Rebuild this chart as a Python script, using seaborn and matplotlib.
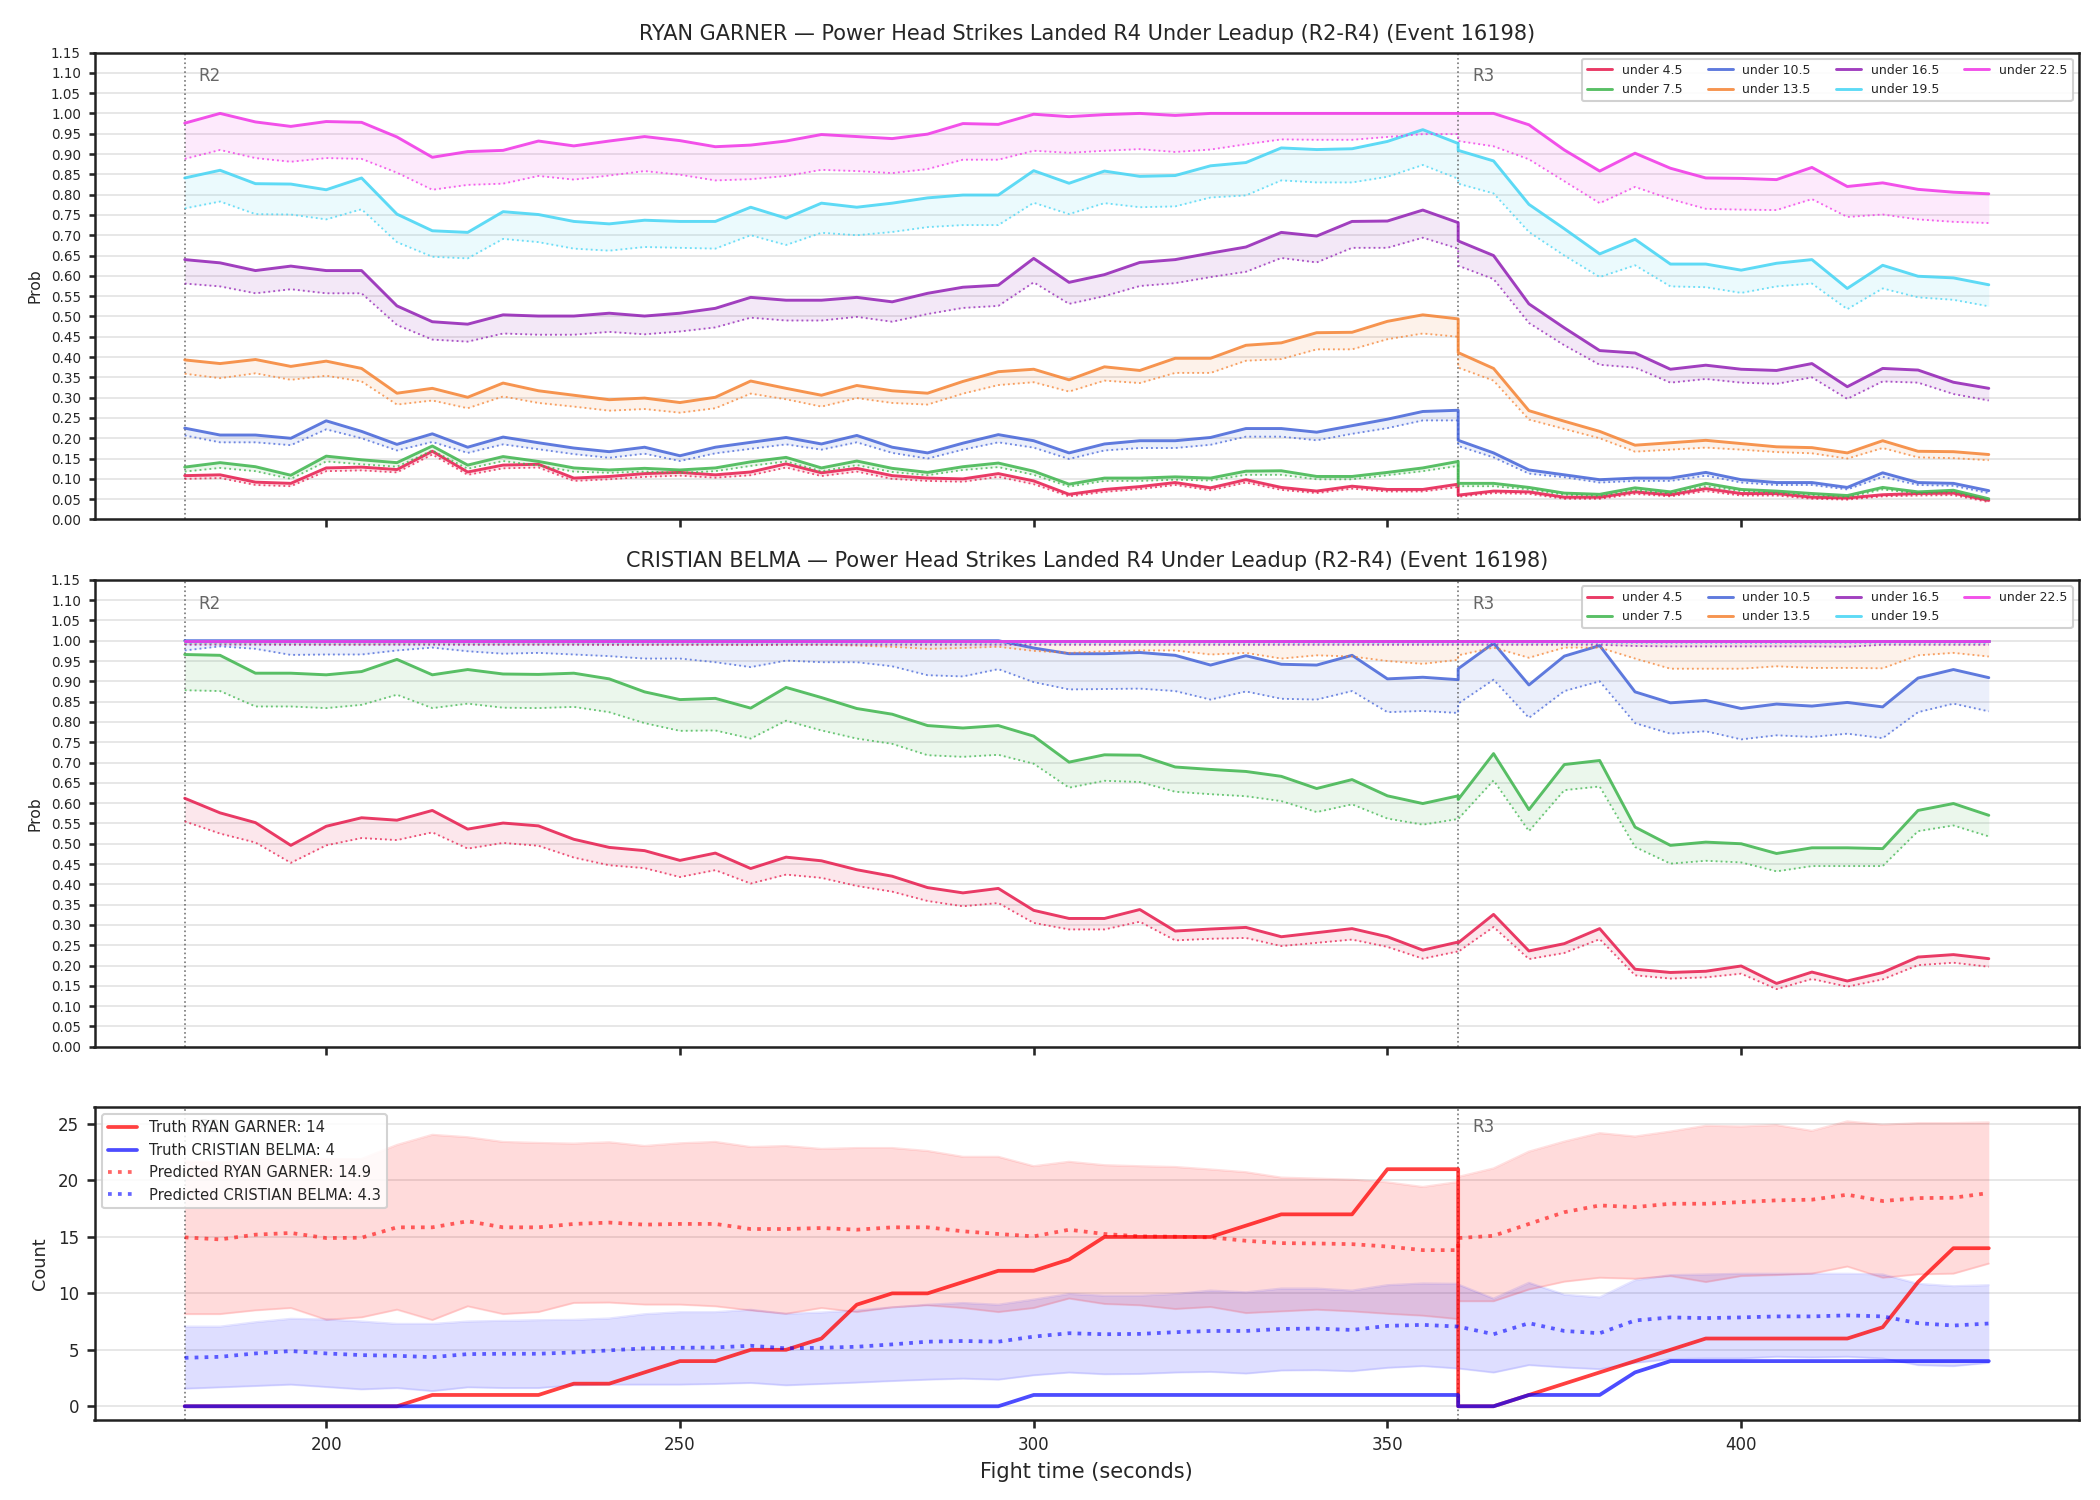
import matplotlib
matplotlib.use("Agg")
import seaborn as sns
import matplotlib.pyplot as plt
import matplotlib.transforms as mtransforms

# time grid: R2 leg (180-360) then R3 leg restarting at 360
time_r2 = [180, 185, 190, 195, 200, 205, 210, 215, 220, 225, 230, 235, 240, 245, 250,
           255, 260, 265, 270, 275, 280, 285, 290, 295, 300, 305, 310, 315, 320, 325,
           330, 335, 340, 345, 350, 355, 360]
time_r3 = [360, 365, 370, 375, 380, 385, 390, 395, 400, 405, 410, 415, 420, 425, 430, 435]
time = time_r2 + time_r3

lines = ["under 4.5", "under 7.5", "under 10.5", "under 13.5", "under 16.5", "under 19.5", "under 22.5"]
line_colors = ["#e6194b", "#3cb44b", "#4363d8", "#f58231", "#911eb4", "#42d4f4", "#f032e6"]

# ---- RYAN GARNER (solid / dotted) ----
rg_u45 = [0.108, 0.11, 0.092, 0.089, 0.127, 0.129, 0.123, 0.168, 0.117, 0.134,
          0.136, 0.102, 0.106, 0.113, 0.116, 0.11, 0.117, 0.137, 0.115, 0.126,
          0.108, 0.102, 0.1, 0.113, 0.095, 0.062, 0.074, 0.081, 0.091, 0.078,
          0.098, 0.079, 0.07, 0.082, 0.074, 0.074, 0.087,
          0.06, 0.07, 0.068, 0.055, 0.055, 0.068, 0.061, 0.076, 0.064, 0.064, 0.055, 0.053, 0.061, 0.064, 0.065, 0.047]
rg_u45_lo = [0.1, 0.102, 0.085, 0.082, 0.119, 0.121, 0.116, 0.16, 0.11, 0.126,
             0.128, 0.095, 0.099, 0.105, 0.108, 0.103, 0.109, 0.128, 0.107, 0.118,
             0.1, 0.095, 0.093, 0.105, 0.087, 0.057, 0.068, 0.075, 0.085, 0.072,
             0.091, 0.073, 0.065, 0.076, 0.069, 0.069, 0.08,
             0.056, 0.065, 0.063, 0.051, 0.051, 0.063, 0.057, 0.07, 0.059, 0.059, 0.051, 0.049, 0.057, 0.059, 0.06, 0.043]
rg_u75 = [0.129, 0.14, 0.13, 0.109, 0.156, 0.147, 0.14, 0.181, 0.134, 0.155,
          0.143, 0.127, 0.122, 0.126, 0.122, 0.127, 0.142, 0.153, 0.127, 0.144,
          0.126, 0.116, 0.13, 0.139, 0.119, 0.087, 0.102, 0.102, 0.105, 0.102,
          0.119, 0.12, 0.106, 0.106, 0.116, 0.127, 0.143,
          0.089, 0.089, 0.079, 0.065, 0.062, 0.078, 0.068, 0.089, 0.074, 0.07, 0.064, 0.059, 0.079, 0.068, 0.072, 0.051]
rg_u75_lo = [0.118, 0.127, 0.119, 0.1, 0.143, 0.136, 0.13, 0.17, 0.125, 0.144,
             0.133, 0.118, 0.115, 0.118, 0.115, 0.119, 0.132, 0.143, 0.119, 0.134,
             0.117, 0.109, 0.122, 0.129, 0.11, 0.081, 0.095, 0.095, 0.098, 0.096,
             0.11, 0.11, 0.099, 0.099, 0.109, 0.119, 0.132,
             0.082, 0.082, 0.074, 0.061, 0.058, 0.072, 0.064, 0.082, 0.07, 0.065, 0.06, 0.055, 0.074, 0.064, 0.068, 0.047]
rg_u105 = [0.225, 0.208, 0.208, 0.2, 0.243, 0.217, 0.185, 0.211, 0.178, 0.203,
           0.189, 0.176, 0.167, 0.178, 0.157, 0.178, 0.19, 0.202, 0.186, 0.207,
           0.178, 0.164, 0.188, 0.209, 0.194, 0.164, 0.186, 0.194, 0.194, 0.202,
           0.224, 0.224, 0.215, 0.231, 0.247, 0.266, 0.269,
           0.195, 0.164, 0.122, 0.11, 0.098, 0.102, 0.102, 0.116, 0.098, 0.091, 0.091, 0.079, 0.115, 0.091, 0.089, 0.071]
rg_u105_lo = [0.207, 0.19, 0.19, 0.183, 0.222, 0.2, 0.17, 0.191, 0.164, 0.185,
              0.173, 0.161, 0.152, 0.162, 0.144, 0.163, 0.174, 0.185, 0.172, 0.19,
              0.164, 0.15, 0.172, 0.19, 0.177, 0.149, 0.17, 0.176, 0.176, 0.184,
              0.204, 0.204, 0.195, 0.211, 0.225, 0.244, 0.244,
              0.181, 0.153, 0.113, 0.104, 0.091, 0.095, 0.095, 0.108, 0.091, 0.085, 0.085, 0.074, 0.105, 0.085, 0.083, 0.065]
rg_u135 = [0.393, 0.384, 0.394, 0.377, 0.39, 0.372, 0.311, 0.323, 0.301, 0.336,
           0.317, 0.306, 0.295, 0.299, 0.288, 0.301, 0.341, 0.323, 0.306, 0.33,
           0.317, 0.311, 0.34, 0.364, 0.37, 0.344, 0.376, 0.367, 0.397, 0.397,
           0.429, 0.435, 0.46, 0.461, 0.488, 0.504, 0.494,
           0.411, 0.372, 0.268, 0.242, 0.217, 0.183, 0.189, 0.195, 0.187, 0.179, 0.177, 0.164, 0.194, 0.168, 0.167, 0.16]
rg_u135_lo = [0.359, 0.348, 0.36, 0.344, 0.354, 0.34, 0.283, 0.293, 0.274, 0.303,
              0.287, 0.278, 0.268, 0.272, 0.263, 0.274, 0.31, 0.296, 0.278, 0.299,
              0.287, 0.283, 0.31, 0.331, 0.338, 0.315, 0.342, 0.336, 0.361, 0.361,
              0.391, 0.395, 0.419, 0.419, 0.444, 0.458, 0.45,
              0.374, 0.342, 0.246, 0.223, 0.2, 0.167, 0.172, 0.177, 0.172, 0.166, 0.163, 0.15, 0.176, 0.153, 0.151, 0.146]
rg_u165 = [0.64, 0.632, 0.613, 0.624, 0.613, 0.613, 0.526, 0.487, 0.481, 0.504,
           0.501, 0.501, 0.508, 0.501, 0.508, 0.52, 0.547, 0.54, 0.54, 0.547,
           0.536, 0.557, 0.572, 0.577, 0.643, 0.584, 0.603, 0.633, 0.64, 0.656,
           0.671, 0.707, 0.698, 0.734, 0.735, 0.762, 0.731,
           0.686, 0.65, 0.531, 0.472, 0.416, 0.41, 0.37, 0.38, 0.37, 0.367, 0.384, 0.327, 0.372, 0.368, 0.338, 0.323]
rg_u165_lo = [0.581, 0.574, 0.557, 0.567, 0.557, 0.557, 0.479, 0.443, 0.438, 0.458,
              0.455, 0.455, 0.462, 0.456, 0.463, 0.473, 0.497, 0.49, 0.49, 0.499,
              0.487, 0.506, 0.521, 0.526, 0.584, 0.531, 0.55, 0.575, 0.582, 0.597,
              0.61, 0.644, 0.633, 0.669, 0.669, 0.694, 0.667,
              0.625, 0.592, 0.484, 0.429, 0.381, 0.374, 0.337, 0.346, 0.337, 0.334, 0.35, 0.297, 0.34, 0.337, 0.309, 0.293]
rg_u195 = [0.841, 0.86, 0.827, 0.826, 0.812, 0.841, 0.752, 0.711, 0.707, 0.758,
           0.751, 0.734, 0.728, 0.737, 0.734, 0.734, 0.769, 0.742, 0.779, 0.769,
           0.779, 0.792, 0.799, 0.799, 0.859, 0.828, 0.858, 0.845, 0.847, 0.871,
           0.879, 0.915, 0.911, 0.913, 0.931, 0.96, 0.926,
           0.909, 0.883, 0.776, 0.716, 0.654, 0.69, 0.629, 0.629, 0.614, 0.631, 0.64, 0.569, 0.626, 0.599, 0.595, 0.578]
rg_u195_lo = [0.766, 0.783, 0.752, 0.751, 0.739, 0.764, 0.683, 0.647, 0.643, 0.691,
              0.683, 0.667, 0.662, 0.671, 0.669, 0.667, 0.7, 0.676, 0.706, 0.7,
              0.708, 0.72, 0.725, 0.725, 0.78, 0.752, 0.779, 0.769, 0.771, 0.793,
              0.798, 0.835, 0.83, 0.83, 0.844, 0.873, 0.839,
              0.827, 0.803, 0.708, 0.65, 0.597, 0.626, 0.574, 0.572, 0.558, 0.574, 0.581, 0.518, 0.569, 0.547, 0.541, 0.525]
rg_u225 = [0.976, 1.0, 0.979, 0.968, 0.98, 0.978, 0.942, 0.892, 0.906, 0.909,
           0.932, 0.92, 0.932, 0.943, 0.933, 0.918, 0.922, 0.932, 0.948, 0.943,
           0.938, 0.949, 0.975, 0.973, 0.998, 0.992, 0.997, 1.0, 0.995, 1.0,
           1.0, 1.0, 1.0, 1.0, 1.0, 1.0, 1.0,
           1.0, 1.0, 0.972, 0.91, 0.858, 0.902, 0.865, 0.841, 0.84, 0.837, 0.867, 0.82, 0.829, 0.813, 0.806, 0.802]
rg_u225_lo = [0.888, 0.91, 0.89, 0.881, 0.89, 0.888, 0.854, 0.812, 0.824, 0.827,
              0.846, 0.837, 0.847, 0.858, 0.849, 0.835, 0.838, 0.846, 0.861, 0.858,
              0.853, 0.863, 0.886, 0.886, 0.908, 0.903, 0.908, 0.912, 0.905, 0.911,
              0.924, 0.936, 0.935, 0.935, 0.942, 0.949, 0.949,
              0.932, 0.919, 0.887, 0.833, 0.779, 0.819, 0.789, 0.765, 0.763, 0.762, 0.789, 0.745, 0.751, 0.739, 0.733, 0.73]

# ---- CRISTIAN BELMA (solid / dotted) ----
cb_u45 = [0.612, 0.576, 0.552, 0.496, 0.543, 0.564, 0.558, 0.582, 0.536, 0.551,
          0.544, 0.511, 0.491, 0.483, 0.459, 0.477, 0.439, 0.467, 0.458, 0.436,
          0.42, 0.392, 0.379, 0.39, 0.336, 0.316, 0.316, 0.338, 0.285, 0.29,
          0.294, 0.271, 0.281, 0.291, 0.271, 0.238, 0.258,
          0.256, 0.326, 0.236, 0.254, 0.291, 0.191, 0.183, 0.186, 0.199, 0.156, 0.184, 0.162, 0.183, 0.221, 0.227, 0.217]
cb_u45_lo = [0.555, 0.525, 0.503, 0.453, 0.496, 0.514, 0.509, 0.528, 0.488, 0.502,
             0.495, 0.466, 0.447, 0.44, 0.418, 0.435, 0.402, 0.424, 0.416, 0.396,
             0.382, 0.359, 0.346, 0.354, 0.305, 0.289, 0.289, 0.308, 0.262, 0.266,
             0.268, 0.248, 0.256, 0.264, 0.246, 0.217, 0.235,
             0.234, 0.295, 0.216, 0.231, 0.265, 0.176, 0.168, 0.171, 0.18, 0.142, 0.167, 0.148, 0.166, 0.201, 0.207, 0.197]
cb_u75 = [0.966, 0.964, 0.92, 0.92, 0.916, 0.924, 0.954, 0.916, 0.929, 0.918,
          0.917, 0.92, 0.906, 0.874, 0.855, 0.858, 0.834, 0.885, 0.86, 0.833,
          0.819, 0.791, 0.785, 0.791, 0.765, 0.701, 0.719, 0.718, 0.689, 0.683,
          0.678, 0.666, 0.636, 0.658, 0.618, 0.599, 0.618,
          0.609, 0.722, 0.584, 0.695, 0.705, 0.541, 0.496, 0.504, 0.5, 0.476, 0.49, 0.49, 0.488, 0.582, 0.599, 0.57]
cb_u75_lo = [0.878, 0.876, 0.838, 0.838, 0.834, 0.842, 0.867, 0.834, 0.845, 0.835,
             0.834, 0.837, 0.824, 0.797, 0.778, 0.779, 0.759, 0.803, 0.779, 0.759,
             0.746, 0.718, 0.714, 0.719, 0.697, 0.638, 0.655, 0.652, 0.628, 0.622,
             0.617, 0.605, 0.578, 0.597, 0.562, 0.547, 0.561,
             0.561, 0.656, 0.531, 0.632, 0.641, 0.492, 0.451, 0.458, 0.454, 0.432, 0.445, 0.445, 0.445, 0.531, 0.545, 0.518]
cb_u105 = [1.0, 1.0, 1.0, 1.0, 1.0, 1.0, 1.0, 1.0, 1.0, 1.0,
           1.0, 1.0, 1.0, 1.0, 1.0, 1.0, 1.0, 1.0, 1.0, 1.0,
           1.0, 1.0, 1.0, 1.0, 0.982, 0.968, 0.968, 0.971, 0.964, 0.94,
           0.963, 0.942, 0.94, 0.964, 0.906, 0.91, 0.904,
           0.931, 0.994, 0.891, 0.962, 0.988, 0.874, 0.847, 0.853, 0.833, 0.844, 0.839, 0.848, 0.837, 0.908, 0.929, 0.909]
cb_u105_lo = [0.976, 0.986, 0.98, 0.965, 0.966, 0.966, 0.976, 0.983, 0.974, 0.968,
              0.97, 0.966, 0.962, 0.956, 0.956, 0.947, 0.935, 0.951, 0.947, 0.947,
              0.937, 0.915, 0.912, 0.93, 0.898, 0.88, 0.881, 0.882, 0.876, 0.855,
              0.875, 0.857, 0.855, 0.876, 0.824, 0.827, 0.822,
              0.845, 0.904, 0.81, 0.876, 0.9, 0.797, 0.771, 0.777, 0.757, 0.767, 0.763, 0.771, 0.76, 0.824, 0.845, 0.826]
cb_u135 = [1.0] * 53
cb_u135_lo = [0.992, 0.993, 0.992, 0.991, 0.991, 0.991, 0.992, 0.992, 0.991, 0.991,
              0.991, 0.991, 0.99, 0.99, 0.99, 0.99, 0.989, 0.99, 0.99, 0.988,
              0.985, 0.98, 0.982, 0.985, 0.975, 0.97, 0.974, 0.976, 0.976, 0.966,
              0.97, 0.956, 0.964, 0.961, 0.95, 0.943, 0.953,
              0.964, 0.983, 0.958, 0.983, 0.983, 0.956, 0.931, 0.931, 0.931, 0.937, 0.933, 0.933, 0.932, 0.964, 0.97, 0.961]
cb_u165 = [1.0] * 53
cb_u165_lo = [0.99] * 37 + [0.99, 0.99, 0.99, 0.99, 0.99, 0.987, 0.986, 0.986, 0.986, 0.986,
                            0.986, 0.985, 0.99, 0.99, 0.99, 0.99]
cb_u195 = [1.0] * 53
cb_u195_lo = [0.994] * 53
cb_u225 = [1.0] * 53
cb_u225_lo = [0.997] * 53

# ---- counts ----
truth_rg = [0, 0, 0, 0, 0, 0, 0, 1, 1, 1, 1, 2, 2, 3, 4, 4, 5, 5, 6, 9,
            10, 10, 11, 12, 12, 13, 15, 15, 15, 15, 16, 17, 17, 17, 21, 21, 21,
            0, 0, 1, 2, 3, 4, 5, 6, 6, 6, 6, 6, 7, 11, 14, 14]
truth_cb = [0] * 24 + [1] * 13 + [0, 0, 1, 1, 1, 3, 4, 4, 4, 4, 4, 4, 4, 4, 4, 4]
pred_rg = [14.96, 14.78, 15.2, 15.35, 14.9, 14.93, 15.85, 15.85, 16.39, 15.85,
           15.85, 16.15, 16.27, 16.09, 16.15, 16.15, 15.7, 15.7, 15.79, 15.64,
           15.85, 15.85, 15.5, 15.26, 15.05, 15.64, 15.26, 15.05, 15.02, 14.96,
           14.66, 14.45, 14.42, 14.36, 14.15, 13.83, 13.83,
           14.9, 15.1, 16.15, 17.19, 17.79, 17.64, 17.94, 17.94, 18.09, 18.24, 18.3, 18.74, 18.18, 18.44, 18.47, 18.89]
pred_rg_hi = [21.7, 21.6, 21.9, 22.0, 21.9, 21.9, 23.15, 24.05, 23.84, 23.42,
              23.33, 23.27, 23.39, 23.06, 23.3, 23.42, 22.97, 23.06, 22.8, 22.88,
              22.88, 22.62, 22.1, 22.1, 21.27, 21.66, 21.36, 21.27, 21.2, 20.98,
              20.74, 20.26, 20.17, 20.08, 19.84, 19.43, 19.87,
              20.32, 21.07, 22.56, 23.45, 24.2, 23.9, 24.34, 24.85, 24.79, 24.91, 24.4, 25.24, 24.94, 25.09, 25.09, 25.15]
pred_rg_lo = [8.16, 8.16, 8.49, 8.7, 7.66, 7.87, 8.55, 7.63, 8.85, 8.16,
              8.34, 9.15, 9.18, 9.0, 9.0, 8.85, 8.49, 8.19, 8.7, 8.34,
              8.76, 8.94, 8.7, 8.34, 8.7, 9.54, 9.06, 8.94, 8.61, 8.79,
              8.25, 8.4, 8.55, 8.4, 8.19, 8.02, 7.72,
              9.3, 9.3, 10.34, 11.03, 11.38, 11.29, 11.53, 11.0, 11.53, 11.62, 11.74, 12.37, 11.38, 11.68, 11.74, 12.63]
pred_cb = [4.29, 4.38, 4.68, 4.89, 4.68, 4.53, 4.47, 4.35, 4.62, 4.65,
           4.65, 4.77, 4.95, 5.13, 5.18, 5.21, 5.36, 5.13, 5.18, 5.27,
           5.48, 5.72, 5.78, 5.72, 6.17, 6.47, 6.38, 6.41, 6.56, 6.67,
           6.67, 6.85, 6.88, 6.76, 7.12, 7.21, 7.06,
           7.06, 6.38, 7.36, 6.67, 6.47, 7.6, 7.87, 7.81, 7.87, 7.96, 7.96, 8.05, 7.96, 7.36, 7.15, 7.33]
pred_cb_hi = [7.06, 7.06, 7.45, 7.75, 7.69, 7.51, 7.3, 7.3, 7.51, 7.57,
              7.63, 7.66, 7.78, 8.16, 8.34, 8.34, 8.55, 8.19, 8.31, 8.49,
              8.76, 9.0, 9.15, 9.0, 9.45, 9.95, 9.8, 9.8, 9.95, 10.25,
              10.1, 10.43, 10.43, 10.25, 10.73, 10.88, 10.85,
              10.79, 9.54, 10.94, 9.89, 9.65, 11.17, 11.62, 11.68, 11.74, 11.74, 11.74, 11.74, 11.68, 10.85, 10.64, 10.73]
pred_cb_lo = [1.55, 1.67, 1.79, 1.91, 1.7, 1.49, 1.61, 1.34, 1.67, 1.61,
              1.61, 1.85, 1.91, 1.91, 1.91, 1.97, 2.06, 1.85, 1.97, 2.09,
              2.23, 2.35, 2.44, 2.35, 2.74, 2.98, 2.83, 2.86, 2.98, 3.04,
              2.89, 3.16, 3.19, 3.1, 3.4, 3.55, 3.34,
              3.34, 2.98, 3.64, 3.43, 3.28, 3.84, 4.17, 4.23, 4.23, 4.38, 4.32, 4.38, 4.23, 3.64, 3.55, 3.84]

round_marks = [180, 360]
round_names = ["R2", "R3"]

title_tail = " — Power Head Strikes Landed R4 Under Leadup (R2-R4) (Event 16198)"

sns.set_theme(style="ticks")
plt.rcParams["font.family"] = ["DejaVu Sans"]

fig, axes = plt.subplots(3, 1, figsize=(14, 10), dpi=150, sharex=True,
                         gridspec_kw={"height_ratios": [1.49, 1.49, 1.0]})
fig.subplots_adjust(left=0.045, right=0.99, top=0.965, bottom=0.053, hspace=0.145)


def round_lines(ax, label_y=0.968):
    trans = mtransforms.blended_transform_factory(ax.transData, ax.transAxes)
    for xm, nm in zip(round_marks, round_names):
        ax.axvline(xm, color="#555555", ls=":", lw=0.8, alpha=0.8, zorder=1)
        ax.text(xm + 2, label_y, nm, transform=trans, va="top", ha="left",
                fontsize=8, color="#666666", zorder=1)


def prob_panel(ax, fighter, solids, dotted):
    for name, col, hi, lo in zip(lines, line_colors, solids, dotted):
        ax.fill_between(time, lo, hi, color=col, alpha=0.1, lw=0)
        sns.lineplot(x=time, y=lo, ax=ax, color=col, lw=0.9, ls=":", alpha=0.75,
                     estimator=None, sort=False)
        sns.lineplot(x=time, y=hi, ax=ax, color=col, lw=1.4, alpha=0.85,
                     estimator=None, sort=False, label=name)
    ax.set_ylim(0, 1.15)
    ax.set_yticks([i * 0.05 for i in range(24)])
    ax.set_yticklabels([f"{i * 0.05:.2f}" for i in range(24)])
    ax.tick_params(axis="y", labelsize=6.5, length=3)
    ax.tick_params(axis="x", length=4)
    ax.grid(axis="y", color="#e3e3e3", lw=0.8)
    ax.set_axisbelow(True)
    ax.set_ylabel("Prob", fontsize=7.5)
    ax.set_xlabel("")
    ax.set_title(fighter + title_tail, fontsize=10)
    ax.legend(ncol=4, loc="upper right", fontsize=6, framealpha=0.9,
              edgecolor="#cccccc", handlelength=2.0, columnspacing=2.0)
    round_lines(ax)


prob_panel(axes[0], "RYAN GARNER",
           [rg_u45, rg_u75, rg_u105, rg_u135, rg_u165, rg_u195, rg_u225],
           [rg_u45_lo, rg_u75_lo, rg_u105_lo, rg_u135_lo, rg_u165_lo, rg_u195_lo, rg_u225_lo])
prob_panel(axes[1], "CRISTIAN BELMA",
           [cb_u45, cb_u75, cb_u105, cb_u135, cb_u165, cb_u195, cb_u225],
           [cb_u45_lo, cb_u75_lo, cb_u105_lo, cb_u135_lo, cb_u165_lo, cb_u195_lo, cb_u225_lo])

# ---- count panel ----
ax = axes[2]
ax.fill_between(time, pred_rg_lo, pred_rg_hi, color="red", alpha=0.14, lw=0)
ax.fill_between(time, pred_cb_lo, pred_cb_hi, color="blue", alpha=0.13, lw=0)
sns.lineplot(x=time, y=pred_rg_hi, ax=ax, color="red", alpha=0.12, lw=1, estimator=None, sort=False)
sns.lineplot(x=time, y=pred_rg_lo, ax=ax, color="red", alpha=0.12, lw=1, estimator=None, sort=False)
sns.lineplot(x=time, y=pred_cb_hi, ax=ax, color="blue", alpha=0.1, lw=1, estimator=None, sort=False)
sns.lineplot(x=time, y=pred_cb_lo, ax=ax, color="blue", alpha=0.1, lw=1, estimator=None, sort=False)
sns.lineplot(x=time, y=truth_rg, ax=ax, color="red", lw=1.8, alpha=0.75, estimator=None, sort=False,
             label=f"Truth RYAN GARNER: {truth_rg[-1]}")
sns.lineplot(x=time, y=truth_cb, ax=ax, color="blue", lw=1.8, alpha=0.7, estimator=None, sort=False,
             label=f"Truth CRISTIAN BELMA: {truth_cb[-1]}")
sns.lineplot(x=time, y=pred_rg, ax=ax, color="red", lw=1.8, ls=":", alpha=0.6, estimator=None, sort=False,
             label="Predicted RYAN GARNER: 14.9")
sns.lineplot(x=time, y=pred_cb, ax=ax, color="blue", lw=1.8, ls=":", alpha=0.6, estimator=None, sort=False,
             label="Predicted CRISTIAN BELMA: 4.3")
ax.set_yticks([0, 5, 10, 15, 20, 25])
ax.tick_params(axis="both", labelsize=8, length=4)
ax.grid(axis="y", color="#e3e3e3", lw=0.8)
ax.set_axisbelow(True)
ax.set_ylabel("Count", fontsize=8.5)
ax.set_xlabel("Fight time (seconds)", fontsize=10)
ax.set_xticks([200, 250, 300, 350, 400])
ax.legend(loc="upper left", fontsize=7.1, framealpha=0.85, edgecolor="#cccccc", handlelength=2.0)
round_lines(ax, label_y=0.965)

for a in axes:
    for sp in a.spines.values():
        sp.set_visible(True)
        sp.set_color("#222222")
        sp.set_linewidth(1.2)

fig.savefig("out.png", dpi=150)
